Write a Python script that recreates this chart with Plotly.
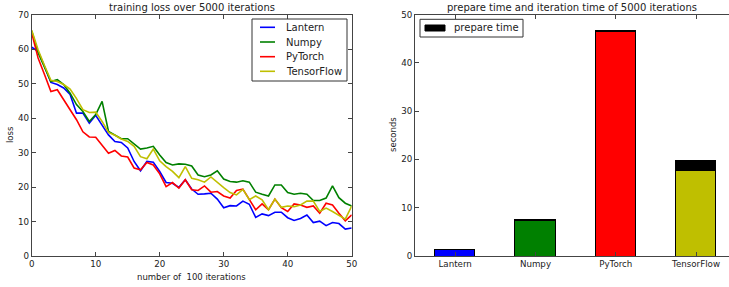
import plotly.graph_objects as go

# ---- data: training loss (x = number of 100 iterations) ----
iters = list(range(51))
lantern_loss = [60.5, 59.3, 55, 50.3, 49.7, 48.7, 46.8, 41.4, 41.4, 38.5, 40.8, 38, 35.1, 33.2, 32.9, 31.3,
                27.4, 24.7, 27.4, 27.2, 24.5, 21.3, 21.1, 19.9, 22.1, 19.4, 17.9, 18, 18.2, 16.5, 14, 14.6,
                14.5, 15.9, 15, 11.2, 12.2, 11.7, 12.7, 12.7, 11.1, 10.3, 10.9, 11.9, 9.7, 10.1, 8.8, 9.7,
                9.4, 7.8, 8.1]
numpy_loss = [65.2, 58.9, 54.7, 50.6, 51.1, 49.7, 47.2, 43.9, 41.9, 39, 41, 44.8, 36.1, 35.1, 34, 34,
              32.4, 31, 31.3, 31.8, 29.3, 27.1, 26.4, 26.7, 26.6, 26.1, 23.5, 23, 23.5, 24.7, 22.3, 21.6,
              21.4, 21.8, 21.4, 18.5, 17.9, 17.4, 20.6, 20.6, 18.4, 17.9, 18.2, 17.9, 16.1, 16.1, 16.8,
              20.3, 16.9, 15.3, 14.5]
pytorch_loss = [64.7, 57.4, 52.6, 47.7, 48.2, 45.3, 42.4, 39.5, 36, 34.5, 34.4, 32.2, 29.8, 30.6, 29, 28.7,
                25.5, 25, 27.1, 26.4, 23.8, 20.1, 21.3, 19.7, 22.1, 19.2, 19, 20.3, 18.5, 18.7, 17.4, 16.8,
                19, 19.4, 16.5, 13.4, 15.1, 13.4, 16.5, 14, 12.9, 15.1, 14.8, 14.1, 14.5, 12.4, 15.3, 14.8,
                12.4, 10.2, 11.9]
tensorflow_loss = [65.4, 59.8, 55.2, 50.9, 50.6, 49.7, 48.4, 45.6, 42.4, 41.6, 41.7, 39, 35.8, 35, 33.9, 33.2,
                   31.8, 28.8, 28.2, 31, 27.6, 25.9, 24.5, 22.7, 25.9, 22.5, 22.1, 21.4, 22.9, 21.3, 19.8,
                   18.4, 17.7, 19.3, 16.3, 17.4, 16.3, 13.4, 16.5, 14.1, 14.5, 14.3, 14.8, 15.9, 15.9, 12.9,
                   13.9, 12.9, 11.9, 10.7, 14.5]

# ---- data: timings (seconds) ----
frameworks = ["Lantern", "Numpy", "PyTorch", "TensorFlow"]
iteration_time = [1.35, 7.45, 46.4, 17.8]
prepare_time = [0.1, 0.2, 0.3, 1.9]

line_colors = ["#0000ff", "#008000", "#ff0000", "#bfbf00"]
bar_colors = ["#0000ff", "#008000", "#ff0000", "#bfbf00"]

W, H = 729, 287
FONT = "DejaVu Sans"
AX = "#444444"
TXT = "#222222"
TICK_SIZE = 8.7
LABEL_SIZE = 8.5
TITLE_SIZE = 10
LEGEND_SIZE = 10


def px_x(p):
    return p / W


def px_y(p):
    return 1 - p / H


fig = go.Figure()

for name, ys, c in zip(frameworks, [lantern_loss, numpy_loss, pytorch_loss, tensorflow_loss], line_colors):
    fig.add_trace(go.Scatter(x=iters, y=ys, mode="lines", name=name,
                             line=dict(color=c, width=1.6), xaxis="x", yaxis="y",
                             showlegend=False))

x_idx = list(range(len(frameworks)))
fig.add_trace(go.Bar(x=x_idx, y=iteration_time,
                     marker=dict(color=bar_colors, line=dict(color="#000000", width=1)),
                     width=0.5, showlegend=False, xaxis="x2", yaxis="y2", name="iteration time"))
fig.add_trace(go.Bar(x=x_idx, y=prepare_time,
                     marker=dict(color="#000000", line=dict(color="#000000", width=1)),
                     width=0.5, name="prepare time", xaxis="x2", yaxis="y2", showlegend=False))

top, bottom = 14.5, 256
axis_common = dict(showline=True, linecolor=AX, linewidth=1, ticks="inside", ticklen=4,
                   tickcolor=AX, showgrid=False, zeroline=False, automargin=False,
                   tickfont=dict(family=FONT, size=TICK_SIZE, color=TXT))

# ---- legends drawn as boxes, sample lines and texts ----
shapes = []
annotations = []

# left legend
shapes.append(dict(type="rect", xref="paper", yref="paper",
                   x0=px_x(252), x1=px_x(347), y0=px_y(81), y1=px_y(19),
                   line=dict(color="#333333", width=1), fillcolor="white", layer="above"))
legend_rows = [27.3, 42.0, 56.7, 71.3]
for name, c, yy in zip(frameworks, line_colors, legend_rows):
    shapes.append(dict(type="line", xref="paper", yref="paper",
                       x0=px_x(260), x1=px_x(275), y0=px_y(yy), y1=px_y(yy),
                       line=dict(color=c, width=1.6), layer="above"))
    annotations.append(dict(text=name, x=px_x(284), y=px_y(yy), xref="paper", yref="paper",
                            showarrow=False, xanchor="left", yanchor="middle",
                            font=dict(family=FONT, size=LEGEND_SIZE, color=TXT)))

# right legend
shapes.append(dict(type="rect", xref="paper", yref="paper",
                   x0=px_x(420), x1=px_x(523), y0=px_y(37), y1=px_y(19.3),
                   line=dict(color="#333333", width=1), fillcolor="white", layer="above"))
shapes.append(dict(type="rect", xref="paper", yref="paper",
                   x0=px_x(425), x1=px_x(445), y0=px_y(31), y1=px_y(25),
                   line=dict(color="#000000", width=1), fillcolor="#000000", layer="above"))
annotations.append(dict(text="prepare time", x=px_x(452), y=px_y(28), xref="paper", yref="paper",
                        showarrow=False, xanchor="left", yanchor="middle",
                        font=dict(family=FONT, size=LEGEND_SIZE, color=TXT)))

# titles and axis labels
annotations += [
    dict(text="training loss over 5000 iterations", x=(31.7 + 351.7) / 2 / W, y=px_y(7),
         xref="paper", yref="paper", showarrow=False, xanchor="center", yanchor="middle",
         font=dict(family=FONT, size=TITLE_SIZE, color=TXT)),
    dict(text="prepare time and iteration time of 5000 iterations", x=(415 + 729) / 2 / W, y=px_y(7),
         xref="paper", yref="paper", showarrow=False, xanchor="center", yanchor="middle",
         font=dict(family=FONT, size=TITLE_SIZE, color=TXT)),
    dict(text="number of  100 iterations", x=(31.7 + 351.7) / 2 / W, y=px_y(276.5),
         xref="paper", yref="paper", showarrow=False, xanchor="center", yanchor="middle",
         font=dict(family=FONT, size=LABEL_SIZE, color=TXT)),
    dict(text="loss", x=px_x(10), y=px_y(135), textangle=-90,
         xref="paper", yref="paper", showarrow=False, xanchor="center", yanchor="middle",
         font=dict(family=FONT, size=LABEL_SIZE, color=TXT)),
    dict(text="seconds", x=px_x(393), y=px_y(135), textangle=-90,
         xref="paper", yref="paper", showarrow=False, xanchor="center", yanchor="middle",
         font=dict(family=FONT, size=LABEL_SIZE, color=TXT)),
]

fig.update_layout(
    width=W, height=H, margin=dict(l=0, r=0, t=0, b=0, autoexpand=False),
    paper_bgcolor="white", plot_bgcolor="white",
    barmode="stack", bargap=0, showlegend=False,
    font=dict(family=FONT, color=TXT),
    xaxis=dict(domain=[px_x(31.7), px_x(351.7)], range=[0, 50], tickvals=[0, 10, 20, 30, 40, 50],
               mirror="ticks", anchor="y", **axis_common),
    yaxis=dict(domain=[px_y(bottom), px_y(top)], range=[0, 70], tickvals=[0, 10, 20, 30, 40, 50, 60, 70],
               mirror="ticks", anchor="x", **axis_common),
    xaxis2=dict(domain=[px_x(415), 1.0], range=[-0.5, 3.41], tickvals=x_idx, ticktext=frameworks,
                mirror="ticks", anchor="y2", **axis_common),
    yaxis2=dict(domain=[px_y(bottom), px_y(top)], range=[0, 50], tickvals=[0, 10, 20, 30, 40, 50],
                mirror=False, anchor="x2", **axis_common),
    shapes=shapes,
    annotations=annotations,
)

fig.write_html("out.html", config={"displayModeBar": False},
               post_script="document.body.style.margin='0';document.body.style.padding='0';"
                           "document.body.style.overflow='hidden';")
